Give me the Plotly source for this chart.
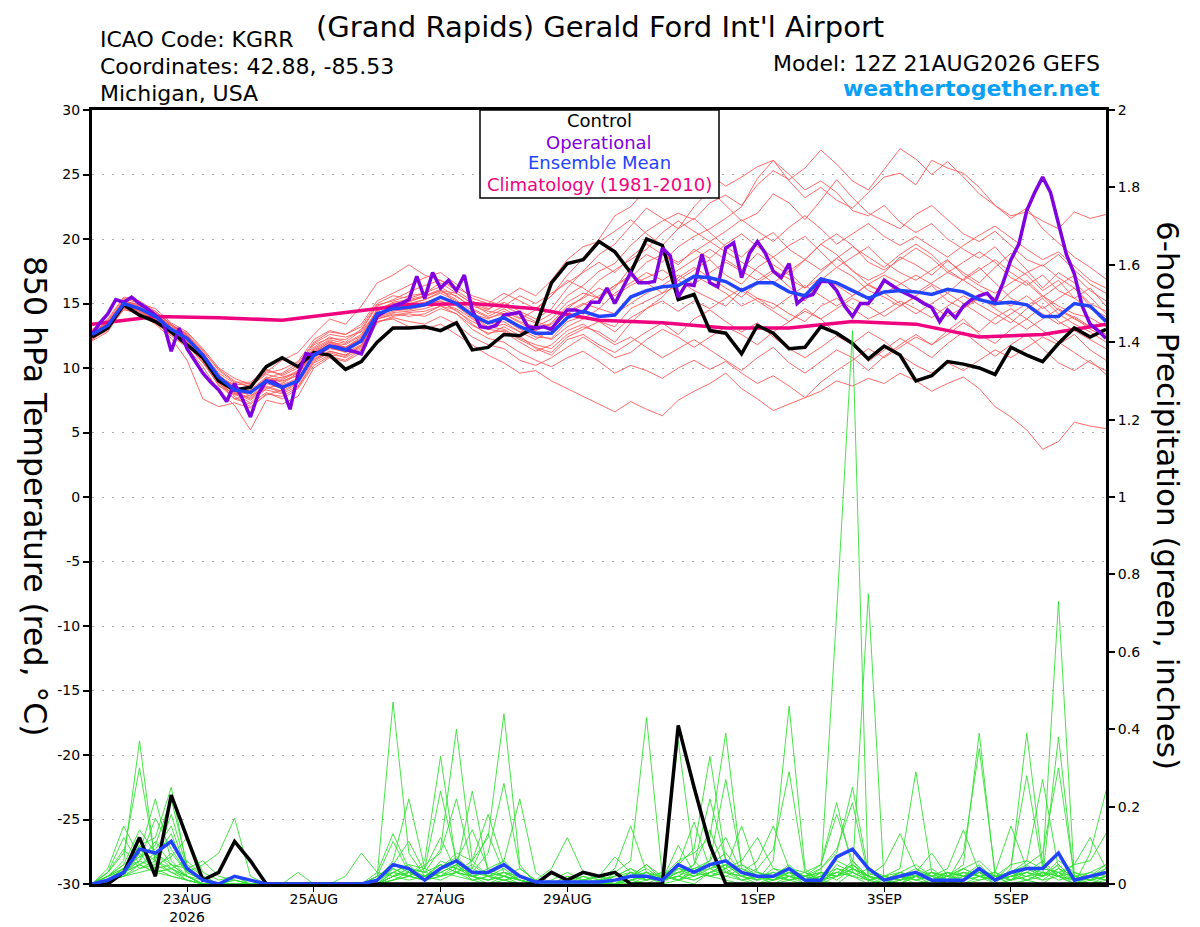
import pandas as pd
import plotly.graph_objects as go

# 6-hourly GEFS steps, 3-hourly operational run, daily climatology
times = pd.date_range("2026-08-21 12:00", periods=65, freq="6h")
op_times = pd.date_range("2026-08-21 12:00", periods=129, freq="3h")
clim_times = pd.date_range("2026-08-21 12:00", periods=17, freq="24h")

tick_days = ["2026-08-23", "2026-08-25", "2026-08-27", "2026-08-29",
             "2026-09-01", "2026-09-03", "2026-09-05"]
tick_text = ["23AUG<br>2026", "25AUG", "27AUG", "29AUG", "1SEP", "3SEP", "5SEP"]
temp_ticks = [-30, -25, -20, -15, -10, -5, 0, 5, 10, 15, 20, 25, 30]
precip_ticks = [0, 0.2, 0.4, 0.6, 0.8, 1, 1.2, 1.4, 1.6, 1.8, 2]

control_temp = [
    12.4, 13.1, 14.9, 14.1, 13.6, 12.8, 11.8, 10.8, 9.0, 8.3, 8.5, 10.1, 10.8,
    10.1, 11.2, 11.0, 9.9, 10.5, 12.0, 13.1, 13.1, 13.2, 12.9, 13.5, 11.4, 11.6,
    12.6, 12.5, 13.2, 16.6, 18.1, 18.4, 19.8, 19.0, 17.4, 20.0, 19.5, 15.3, 15.7,
    12.9, 12.7, 11.1, 13.3, 12.7, 11.5, 11.6, 13.2, 12.7, 11.9, 10.7, 11.7, 11.0,
    9.0, 9.4, 10.5, 10.3, 10.0, 9.5, 11.6, 11.0, 10.5, 11.9, 13.1, 12.4, 13.0,
]

mean_temp = [
    12.6, 13.3, 15.0, 14.6, 14.0, 13.0, 12.3, 11.0, 9.3, 8.3, 8.1, 9.0, 8.5,
    9.0, 11.0, 11.7, 11.4, 12.1, 14.2, 14.6, 14.7, 14.9, 15.5, 15.0, 14.1, 13.5,
    13.9, 13.2, 12.7, 12.7, 13.9, 14.4, 14.0, 14.1, 15.5, 16.0, 16.3, 16.4, 17.1,
    17.0, 16.7, 16.0, 16.6, 16.6, 15.9, 15.6, 16.9, 16.6, 16.0, 15.4, 15.9, 16.0,
    15.9, 15.7, 16.1, 15.9, 15.3, 15.0, 15.1, 14.9, 14.0, 14.0, 15.0, 14.8, 13.6,
]

op_temp = [
    12.6, 13.5, 14.2, 15.3, 15.1, 15.5, 15.0, 14.6, 14.1, 13.5, 11.3, 13.1, 11.5,
    10.5, 9.6, 8.9, 8.3, 7.4, 8.8, 7.6, 6.2, 8.0, 9.0, 8.9, 8.5, 6.8,
    9.5, 11.1, 11.0, 11.3, 11.7, 11.6, 11.4, 11.3, 11.1, 12.5, 14.0, 14.4, 14.8,
    15.0, 15.3, 17.1, 15.4, 17.4, 16.2, 16.8, 16.0, 17.2, 14.5, 13.2, 13.1, 13.3,
    14.1, 14.2, 14.3, 13.2, 13.1, 13.2, 13.0, 13.8, 14.5, 14.5, 14.3, 15.1, 15.1,
    16.2, 15.0, 16.2, 17.4, 16.6, 16.6, 16.7, 19.3, 18.7, 15.5, 16.5, 16.4, 18.8,
    16.6, 16.3, 19.3, 19.7, 17.0, 18.9, 19.8, 18.9, 17.5, 17.0, 18.1, 15.0, 15.5,
    15.7, 16.7, 16.7, 16.0, 14.8, 14.0, 15.0, 15.0, 15.8, 16.8, 16.4, 16.0, 15.7,
    15.4, 15.0, 14.7, 13.6, 14.5, 13.9, 14.8, 15.3, 15.6, 15.8, 15.1, 16.6, 18.4,
    19.6, 22.2, 23.6, 24.8, 23.6, 21.3, 18.8, 17.3, 14.8, 13.4, 12.9, 12.3,
]

clim_temp = [13.4, 14.0, 13.9, 13.7, 14.3, 14.9, 15.0, 14.6, 13.7,
             13.5, 13.1, 13.1, 13.6, 13.4, 12.4, 12.6, 13.4]

member_temp = [
    [12.8, 13.6, 15.2, 14.9, 14.3, 13.4, 12.6, 11.2, 9.6, 8.8, 8.6, 9.5, 9.2,
     9.8, 11.6, 12.4, 12.0, 12.9, 14.8, 15.3, 15.9, 16.4, 16.8, 16.0, 15.2, 14.6,
     15.1, 14.4, 13.8, 14.6, 16.2, 17.5, 18.8, 19.6, 21.0, 22.4, 21.6, 20.8, 22.5,
     23.8, 22.6, 21.4, 22.0, 23.5, 22.8, 21.5, 23.0, 24.6, 23.2, 22.0, 21.4, 20.8,
     21.9, 22.6, 21.5, 20.4, 19.8, 20.6, 19.5, 18.4, 17.9, 18.8, 17.6, 16.5, 15.8],
    [12.3, 12.9, 14.6, 14.1, 13.5, 12.5, 11.6, 10.1, 8.2, 7.1, 5.2, 7.5, 7.2,
     7.8, 10.0, 10.8, 10.5, 11.2, 13.5, 14.0, 14.2, 14.0, 14.6, 14.2, 13.0, 12.3,
     12.0, 11.2, 10.6, 10.1, 10.8, 11.3, 10.5, 9.6, 10.2, 9.8, 9.2, 10.0, 10.6,
     9.9, 10.5, 9.6, 8.8, 9.4, 8.6, 7.7, 8.2, 9.0, 8.6, 9.2, 8.8, 9.6,
     9.0, 8.2, 8.8, 9.3, 8.4, 7.0, 6.2, 5.2, 3.7, 4.3, 5.8, 5.5, 5.3],
    [12.2, 13.0, 14.5, 14.3, 13.8, 12.7, 11.8, 10.4, 8.9, 7.6, 7.9, 8.3, 8.0,
     8.6, 10.5, 11.2, 10.8, 11.5, 13.6, 13.8, 13.2, 13.0, 13.4, 12.6, 11.8, 11.0,
     10.4, 9.6, 9.8, 9.0, 8.4, 7.8, 7.2, 6.6, 7.4, 6.8, 6.3, 7.5, 8.2,
     8.8, 9.6, 8.4, 7.6, 6.7, 7.2, 7.7, 8.9, 9.8, 10.6, 11.5, 10.8, 11.6,
     12.4, 11.8, 12.6, 13.5, 12.8, 13.9, 14.6, 13.8, 14.8, 13.6, 12.9, 12.2, 11.5],
    [13.0, 13.7, 15.4, 15.0, 14.6, 13.5, 12.8, 11.5, 10.0, 9.2, 8.7, 9.8, 9.5,
     10.2, 12.0, 12.8, 12.6, 13.4, 15.2, 15.8, 16.4, 17.0, 17.4, 16.5, 15.4, 15.0,
     15.8, 15.2, 14.6, 15.6, 17.2, 18.5, 20.0, 21.8, 22.5, 23.9, 24.6, 25.2, 26.3,
     25.0, 24.1, 24.8, 25.6, 26.1, 25.0, 23.8, 24.5, 23.6, 22.2, 21.8, 22.6, 21.3,
     20.5, 21.2, 20.0, 19.2, 18.5, 19.4, 18.0, 17.2, 16.0, 16.8, 15.4, 14.6, 14.0],
    [12.5, 13.4, 15.0, 14.7, 13.9, 13.1, 12.4, 10.9, 9.0, 8.0, 8.3, 9.3, 9.0,
     9.4, 11.3, 12.0, 11.8, 12.5, 14.4, 15.0, 14.9, 15.3, 15.9, 15.6, 14.6, 14.0,
     14.6, 13.9, 13.5, 14.2, 15.6, 16.4, 17.5, 18.1, 19.5, 20.6, 21.4, 22.0, 21.5,
     22.8, 23.4, 22.6, 24.2, 25.3, 24.6, 25.5, 26.9, 25.8, 24.5, 23.8, 25.4, 27.0,
     26.2, 25.0, 26.0, 24.8, 23.5, 22.6, 21.6, 22.4, 20.8, 19.7, 18.6, 17.8, 16.9],
    [12.7, 13.2, 14.8, 14.4, 14.0, 13.3, 12.7, 11.4, 9.8, 8.9, 8.9, 9.9, 9.4,
     10.0, 11.8, 12.3, 12.2, 13.0, 14.9, 15.2, 15.6, 15.8, 16.3, 15.5, 14.8, 14.4,
     14.2, 13.6, 13.2, 13.8, 15.1, 15.8, 15.4, 16.2, 17.8, 18.8, 18.2, 19.4, 20.2,
     20.8, 21.6, 22.5, 24.7, 26.1, 24.5, 23.2, 24.0, 23.0, 22.4, 23.6, 24.8, 25.1,
     24.2, 26.1, 25.5, 25.1, 24.0, 22.6, 21.8, 22.1, 21.4, 20.8, 22.1, 21.6, 21.9],
    [12.4, 13.1, 15.1, 14.8, 14.1, 12.9, 12.1, 10.6, 9.1, 8.2, 7.6, 8.6, 8.2,
     8.9, 10.8, 11.5, 11.3, 12.0, 14.3, 14.5, 14.5, 14.8, 15.4, 15.1, 14.3, 13.5,
     13.8, 13.0, 12.4, 12.3, 13.6, 14.0, 13.6, 13.2, 14.6, 15.2, 15.8, 16.4, 17.2,
     16.5, 15.8, 14.8, 15.4, 15.0, 14.2, 13.6, 14.8, 15.4, 14.6, 13.8, 14.4, 15.2,
     14.6, 13.9, 14.8, 15.6, 14.9, 14.2, 13.5, 14.6, 15.4, 14.2, 13.4, 12.8, 12.0],
    [12.6, 13.5, 14.9, 14.5, 13.6, 12.8, 12.0, 10.5, 8.6, 8.0, 7.3, 8.4, 8.8,
     9.5, 11.4, 12.1, 11.6, 12.3, 14.6, 15.0, 15.2, 15.5, 16.0, 15.3, 14.0, 13.2,
     13.0, 12.3, 11.8, 11.5, 12.6, 13.2, 12.8, 12.0, 13.5, 14.6, 15.5, 16.8, 17.6,
     18.4, 17.2, 16.5, 17.8, 18.6, 17.4, 16.2, 17.4, 18.5, 17.6, 16.4, 15.8, 16.5,
     17.2, 16.5, 15.8, 16.9, 17.8, 16.6, 15.4, 14.8, 15.6, 14.5, 13.8, 13.2, 12.6],
    [12.1, 12.8, 14.7, 14.2, 13.4, 12.3, 10.6, 7.6, 7.0, 7.3, 6.9, 8.0, 7.8,
     8.5, 10.4, 11.0, 10.9, 11.8, 13.8, 14.2, 14.0, 14.2, 14.8, 14.5, 13.4, 12.6,
     13.2, 12.5, 11.5, 11.0, 12.2, 12.6, 11.8, 11.2, 12.0, 12.8, 13.5, 12.6, 13.8,
     14.5, 13.6, 12.8, 13.5, 12.4, 11.5, 10.8, 11.6, 12.5, 11.8, 10.5, 11.4, 12.3,
     11.6, 10.8, 11.9, 12.8, 11.8, 10.9, 11.8, 12.6, 11.5, 10.4, 9.8, 10.6, 9.5],
    [12.9, 13.4, 15.3, 14.6, 14.2, 13.2, 12.5, 11.0, 9.5, 8.4, 8.0, 9.1, 8.7,
     9.2, 11.1, 11.9, 11.6, 12.4, 14.0, 14.8, 15.1, 15.6, 16.0, 15.8, 15.0, 14.5,
     15.4, 16.2, 15.6, 16.8, 18.4, 19.4, 19.8, 20.6, 21.5, 20.4, 19.5, 20.8, 21.6,
     20.5, 19.4, 18.6, 19.8, 20.5, 19.2, 18.4, 19.6, 20.4, 19.5, 18.2, 17.6, 18.4,
     19.3, 18.5, 17.4, 18.2, 19.0, 18.2, 17.0, 16.4, 17.2, 16.0, 15.4, 16.2, 14.8],
    [12.5, 13.2, 14.8, 14.4, 13.7, 12.6, 11.9, 10.8, 9.2, 8.1, 7.7, 8.8, 8.4,
     9.0, 10.9, 11.6, 11.2, 11.8, 14.0, 14.4, 14.6, 14.9, 15.2, 14.4, 13.6, 13.0,
     12.8, 12.0, 11.3, 11.8, 12.9, 13.4, 12.6, 11.8, 12.4, 11.6, 10.8, 11.5, 12.2,
     11.4, 10.6, 9.8, 10.8, 11.6, 10.4, 9.6, 10.5, 11.4, 10.8, 9.8, 10.9, 11.8,
     12.6, 11.8, 12.9, 13.8, 12.6, 11.9, 13.0, 13.8, 12.9, 12.0, 11.2, 10.4, 9.8],
    [12.9, 13.8, 15.5, 15.2, 14.4, 13.3, 12.5, 11.3, 9.9, 9.0, 8.5, 9.7, 10.6,
     11.2, 12.6, 13.8, 13.4, 14.8, 16.6, 17.2, 18.0, 17.2, 16.8, 16.2, 15.6, 15.2,
     14.8, 14.2, 13.6, 13.2, 14.4, 15.0, 14.6, 15.8, 16.6, 17.4, 16.8, 17.6, 18.4,
     19.2, 18.4, 17.6, 18.9, 18.0, 17.2, 18.4, 19.6, 18.8, 17.5, 16.8, 17.4, 18.6,
     18.0, 17.2, 18.3, 17.4, 16.6, 17.8, 18.9, 17.6, 16.2, 17.4, 16.6, 15.5, 14.2],
    [12.3, 13.0, 14.6, 14.7, 14.0, 13.0, 12.2, 10.7, 8.8, 7.9, 8.1, 9.2, 9.6,
     10.4, 11.9, 12.6, 12.4, 12.8, 14.4, 15.1, 15.3, 15.6, 16.1, 15.0, 14.2, 13.8,
     14.4, 13.8, 14.5, 15.6, 16.8, 16.2, 15.4, 16.4, 17.2, 16.6, 15.8, 17.0, 17.8,
     17.0, 16.2, 15.5, 16.6, 17.4, 16.3, 15.2, 16.8, 17.8, 17.1, 16.0, 15.5, 14.8,
     15.6, 16.4, 15.2, 14.6, 15.4, 14.8, 15.9, 16.8, 15.6, 14.8, 14.2, 13.9, 13.2],
    [12.7, 13.5, 15.1, 14.8, 14.4, 13.4, 12.4, 10.8, 9.4, 8.6, 8.2, 9.0, 9.3,
     9.6, 11.2, 12.0, 11.5, 12.2, 14.2, 14.6, 14.8, 15.0, 15.2, 14.8, 13.9, 13.4,
     13.6, 12.8, 12.9, 13.5, 14.8, 15.4, 16.2, 15.6, 16.4, 17.0, 17.6, 16.8, 16.0,
     15.4, 14.8, 16.0, 15.2, 14.4, 13.6, 14.6, 13.8, 12.6, 11.9, 12.8, 12.1, 11.0,
     10.2, 9.6, 10.4, 9.8, 10.6, 11.4, 10.8, 11.6, 12.4, 11.8, 12.6, 11.4, 10.6],
    [12.4, 13.3, 14.9, 14.6, 13.8, 12.8, 12.2, 10.9, 9.0, 7.8, 7.0, 7.9, 8.3,
     9.1, 10.7, 11.3, 11.0, 11.6, 13.9, 14.3, 14.4, 14.6, 15.0, 14.6, 13.8, 13.1,
     13.4, 12.8, 12.2, 13.0, 14.2, 14.9, 15.6, 16.4, 17.0, 18.2, 18.8, 18.0, 19.2,
     18.5, 19.6, 20.4, 19.4, 18.6, 19.5, 20.2, 19.0, 17.8, 18.6, 19.4, 18.2, 17.4,
     16.8, 17.6, 18.4, 17.2, 16.4, 15.8, 16.6, 17.4, 18.0, 17.0, 16.2, 15.0, 14.4],
    [12.6, 13.4, 15.0, 14.4, 13.9, 13.0, 12.3, 11.1, 9.3, 8.5, 7.8, 8.9, 9.1,
     9.7, 11.2, 11.8, 11.6, 12.2, 14.1, 14.6, 14.8, 15.1, 15.5, 14.9, 14.1, 13.6,
     13.9, 13.2, 12.6, 12.2, 13.2, 13.8, 14.6, 14.2, 15.0, 15.8, 16.4, 17.2, 16.5,
     17.4, 18.2, 17.5, 16.8, 17.6, 16.9, 16.2, 17.0, 16.4, 15.6, 16.5, 17.2, 16.6,
     15.8, 16.6, 17.4, 16.8, 16.0, 15.4, 14.8, 15.6, 14.6, 15.4, 16.2, 14.8, 13.8],
    [12.2, 13.1, 14.8, 14.5, 13.6, 12.6, 11.8, 10.4, 8.7, 7.6, 7.2, 8.1, 7.6,
     8.4, 10.2, 10.9, 10.6, 11.4, 13.6, 13.9, 13.6, 13.4, 14.0, 13.4, 12.4, 11.8,
     11.5, 10.6, 10.2, 10.8, 11.6, 12.4, 11.6, 10.8, 11.2, 12.2, 13.0, 12.4, 11.6,
     12.4, 13.2, 12.6, 11.8, 12.8, 13.6, 14.4, 13.8, 14.6, 15.4, 14.8, 14.0, 14.8,
     15.5, 14.8, 14.0, 14.7, 15.5, 14.6, 13.8, 13.0, 13.8, 14.6, 13.9, 13.0, 12.4],
    [12.8, 13.6, 15.2, 14.9, 14.2, 13.3, 12.6, 11.1, 9.3, 8.7, 8.8, 9.6, 9.9,
     10.5, 12.2, 12.9, 12.6, 13.2, 15.0, 15.6, 15.4, 15.8, 16.6, 15.8, 15.0, 14.2,
     14.8, 15.6, 15.0, 15.8, 16.6, 17.4, 18.2, 17.4, 18.6, 19.6, 18.8, 18.2, 19.0,
     19.8, 20.6, 21.5, 20.6, 19.8, 20.9, 21.8, 20.8, 19.6, 20.4, 21.2, 20.2, 19.5,
     20.2, 19.4, 18.6, 19.5, 20.3, 21.0, 20.1, 19.2, 18.4, 19.0, 17.9, 16.8, 16.2],
    [12.5, 13.2, 14.7, 14.3, 13.7, 12.9, 12.0, 10.6, 8.9, 8.1, 7.5, 8.5, 8.1,
     8.8, 10.6, 11.3, 11.0, 11.7, 13.8, 14.1, 14.3, 14.4, 14.8, 14.2, 13.3, 12.7,
     12.9, 12.2, 11.6, 11.2, 12.4, 13.0, 13.6, 12.8, 13.9, 14.6, 15.2, 14.4, 15.2,
     14.6, 15.4, 16.2, 15.4, 14.6, 15.5, 16.4, 15.6, 14.8, 15.6, 16.5, 15.8, 15.0,
     14.2, 15.0, 15.8, 15.0, 14.2, 13.4, 14.2, 15.0, 14.2, 13.4, 14.0, 13.2, 12.6],
    [12.7, 13.5, 14.9, 14.6, 14.1, 13.1, 12.4, 11.0, 9.4, 8.5, 8.2, 9.2, 8.9,
     9.6, 11.5, 12.2, 11.9, 12.6, 14.5, 14.9, 15.0, 15.3, 15.8, 15.2, 14.5, 13.9,
     14.2, 13.5, 12.9, 13.4, 14.6, 15.5, 16.8, 17.6, 18.4, 19.2, 20.5, 21.4, 20.6,
     19.8, 19.0, 18.2, 17.5, 16.6, 17.5, 18.4, 17.6, 18.5, 19.4, 18.6, 17.8, 18.8,
     19.6, 18.8, 17.6, 16.8, 17.6, 18.4, 17.4, 16.6, 15.5, 16.4, 17.2, 16.0, 15.2],
]

control_precip = [
    0, 0, 0.03, 0.12, 0.02, 0.23, 0.12, 0.01, 0.03, 0.11, 0.06, 0, 0,
    0, 0, 0, 0, 0, 0, 0, 0, 0, 0, 0, 0, 0,
    0, 0, 0, 0.03, 0.01, 0.03, 0.02, 0.03, 0, 0, 0, 0.41, 0.25,
    0.10, 0, 0, 0, 0, 0, 0, 0, 0, 0, 0, 0, 0,
    0, 0, 0, 0, 0, 0, 0, 0, 0, 0, 0, 0, 0,
]

mean_precip = [
    0, 0.01, 0.03, 0.09, 0.08, 0.11, 0.04, 0.01, 0, 0.02, 0.01, 0, 0,
    0, 0, 0, 0, 0, 0.01, 0.05, 0.04, 0.01, 0.04, 0.06, 0.03, 0.03,
    0.05, 0.02, 0.005, 0.005, 0.005, 0.005, 0.005, 0.01, 0.02, 0.02, 0.01, 0.05, 0.03,
    0.05, 0.06, 0.03, 0.02, 0.02, 0.04, 0.01, 0.01, 0.07, 0.09, 0.04, 0.01, 0.02,
    0.03, 0.01, 0.01, 0.01, 0.04, 0.01, 0.03, 0.04, 0.04, 0.08, 0.01, 0.02, 0.03,
]

member_precip = [
    [0, 0.02, 0.06, 0.37, 0.05, 0.03, 0.01, 0, 0, 0, 0, 0, 0,
     0, 0, 0, 0, 0, 0.02, 0.47, 0.08, 0.02, 0.05, 0.03, 0.01, 0.02,
     0.04, 0.01, 0, 0, 0, 0, 0, 0, 0.02, 0.05, 0.01, 0.10, 0.03,
     0.02, 0.01, 0, 0, 0.01, 0.03, 0, 0.02, 0.70, 1.43, 0, 0.01, 0,
     0.02, 0, 0, 0.01, 0.03, 0, 0.01, 0.05, 0.02, 0.38, 0.01, 0, 0.02],
    [0, 0.03, 0.08, 0.30, 0.06, 0.04, 0.02, 0, 0, 0.01, 0, 0, 0,
     0, 0, 0, 0, 0, 0, 0.04, 0.02, 0.06, 0.33, 0.05, 0.02, 0,
     0.01, 0, 0, 0, 0.02, 0, 0, 0.03, 0.06, 0.43, 0.02, 0.01, 0,
     0.03, 0.05, 0.02, 0, 0, 0.02, 0.01, 0, 0.04, 0.02, 0, 0, 0.03,
     0.01, 0, 0.02, 0.05, 0.39, 0.02, 0, 0.01, 0, 0.03, 0, 0.01, 0],
    [0, 0.01, 0.04, 0.10, 0.12, 0.25, 0.04, 0.01, 0, 0, 0, 0, 0,
     0, 0, 0, 0, 0, 0.01, 0.03, 0.05, 0.01, 0.04, 0.08, 0.06, 0.12,
     0.44, 0.05, 0, 0.01, 0.03, 0.01, 0, 0, 0.01, 0.03, 0, 0.04, 0.02,
     0.05, 0.08, 0.03, 0.01, 0.06, 0.46, 0.04, 0, 0.02, 0.05, 0.01, 0, 0.01,
     0.03, 0.01, 0, 0, 0.02, 0, 0.04, 0.39, 0.05, 0.02, 0, 0.02, 0.04],
    [0, 0.02, 0.05, 0.08, 0.22, 0.06, 0.02, 0, 0, 0, 0, 0, 0,
     0, 0, 0, 0, 0, 0, 0.02, 0.04, 0.03, 0.09, 0.40, 0.06, 0.02,
     0.03, 0.01, 0, 0, 0, 0.02, 0, 0, 0, 0.01, 0.02, 0.06, 0.08,
     0.12, 0.39, 0.04, 0.02, 0, 0.01, 0.02, 0.01, 0, 0.03, 0.75, 0, 0.02,
     0, 0.01, 0.03, 0, 0.01, 0.02, 0, 0.01, 0.03, 0.02, 0, 0.08, 0.24],
    [0, 0.04, 0.15, 0.07, 0.10, 0.22, 0.05, 0.02, 0, 0, 0, 0, 0,
     0, 0, 0, 0, 0, 0.01, 0.06, 0.22, 0.04, 0.02, 0.05, 0.01, 0,
     0.02, 0.01, 0, 0, 0.01, 0, 0, 0.02, 0.04, 0.01, 0.03, 0.37, 0.06,
     0.02, 0.04, 0.01, 0, 0.02, 0.01, 0, 0.03, 0.02, 0.06, 0.01, 0, 0,
     0.02, 0.01, 0, 0.03, 0.02, 0.01, 0.03, 0.06, 0.04, 0.73, 0.02, 0, 0.01],
    [0, 0, 0.03, 0.06, 0.04, 0.08, 0.03, 0.05, 0.08, 0.17, 0.02, 0, 0,
     0, 0, 0, 0, 0, 0, 0.02, 0.03, 0.01, 0.06, 0.04, 0.24, 0.03,
     0.02, 0.04, 0.01, 0, 0, 0.01, 0.02, 0, 0.01, 0, 0.02, 0.05, 0.09,
     0.33, 0.06, 0.02, 0.03, 0.01, 0.04, 0.02, 0, 0.05, 0.03, 0.01, 0.02, 0.04,
     0.29, 0.03, 0, 0.02, 0.04, 0.01, 0.02, 0.03, 0.06, 0.02, 0.01, 0.03, 0.05],
    [0, 0.01, 0.04, 0.09, 0.06, 0.18, 0.04, 0.01, 0, 0, 0, 0, 0,
     0, 0, 0, 0, 0, 0.02, 0.05, 0.03, 0.02, 0.04, 0.07, 0.03, 0.08,
     0.26, 0.04, 0.01, 0, 0, 0, 0.01, 0, 0.03, 0.02, 0.01, 0.04, 0.03,
     0.06, 0.27, 0.05, 0.03, 0.02, 0.05, 0.01, 0.02, 0.06, 0.04, 0.02, 0.01, 0.03,
     0.02, 0.04, 0.01, 0.08, 0.35, 0.03, 0.01, 0.04, 0.02, 0.05, 0.01, 0.02, 0.03],
    [0, 0.02, 0.05, 0.14, 0.08, 0.05, 0.02, 0, 0, 0.02, 0, 0, 0,
     0, 0, 0, 0, 0, 0, 0.03, 0.05, 0.04, 0.24, 0.06, 0.02, 0.01,
     0.03, 0.02, 0, 0, 0, 0, 0, 0.01, 0.02, 0.04, 0.01, 0.02, 0.05,
     0.22, 0.06, 0.03, 0.01, 0.04, 0.02, 0.01, 0.03, 0.02, 0.05, 0.02, 0.01, 0,
     0.03, 0.02, 0.01, 0.04, 0.06, 0.02, 0.05, 0.28, 0.04, 0.03, 0.02, 0.01, 0.02],
    [0, 0.01, 0.03, 0.06, 0.17, 0.09, 0.03, 0.01, 0, 0, 0, 0, 0,
     0, 0, 0, 0, 0, 0, 0.02, 0.04, 0.03, 0.05, 0.03, 0.06, 0.18,
     0.05, 0.02, 0, 0, 0.01, 0, 0, 0, 0.01, 0.02, 0.03, 0.01, 0.04,
     0.05, 0.03, 0.02, 0.04, 0.09, 0.29, 0.03, 0.01, 0.02, 0.04, 0.02, 0, 0.01,
     0.03, 0.02, 0, 0.01, 0.04, 0.02, 0.03, 0.05, 0.08, 0.30, 0.02, 0.01, 0.03],
    [0, 0.01, 0.02, 0.04, 0.05, 0.07, 0.12, 0.03, 0.01, 0.02, 0, 0, 0,
     0, 0, 0, 0, 0, 0, 0.01, 0.02, 0.01, 0.03, 0.05, 0.02, 0.04,
     0.06, 0.22, 0.03, 0, 0, 0.01, 0, 0, 0, 0.02, 0.01, 0.03, 0.02,
     0.04, 0.06, 0.03, 0.02, 0.01, 0.03, 0.02, 0.04, 0.08, 0.25, 0.03, 0.01, 0.02,
     0.04, 0.01, 0.02, 0.03, 0.02, 0.01, 0.05, 0.06, 0.27, 0.04, 0.02, 0.01, 0.04],
    [0, 0.03, 0.12, 0.05, 0.03, 0.04, 0.01, 0, 0, 0, 0, 0, 0,
     0, 0, 0, 0, 0, 0.01, 0.04, 0.02, 0.05, 0.08, 0.22, 0.04, 0.02,
     0.01, 0.02, 0, 0, 0.01, 0.02, 0.01, 0.04, 0.15, 0.03, 0.01, 0.02, 0.01,
     0.03, 0.05, 0.02, 0.01, 0.03, 0.02, 0, 0.01, 0.03, 0.02, 0.01, 0.02, 0.03,
     0.05, 0.02, 0.04, 0.14, 0.03, 0.01, 0.02, 0.03, 0.01, 0.04, 0.02, 0.03, 0.02],
    [0, 0.02, 0.04, 0.07, 0.09, 0.15, 0.03, 0.01, 0, 0, 0, 0, 0,
     0, 0, 0, 0, 0, 0.03, 0.13, 0.04, 0.02, 0.05, 0.04, 0.03, 0.02,
     0.03, 0.01, 0, 0, 0.02, 0.01, 0, 0, 0.02, 0.05, 0.02, 0.03, 0.04,
     0.02, 0.03, 0.05, 0.02, 0.01, 0.04, 0.03, 0.05, 0.21, 0.04, 0.02, 0.01, 0.02,
     0.01, 0.03, 0.02, 0.04, 0.02, 0.03, 0.15, 0.04, 0.02, 0.05, 0.01, 0.02, 0.01],
    [0, 0.01, 0.03, 0.10, 0.04, 0.02, 0.01, 0, 0, 0.01, 0, 0, 0,
     0, 0, 0, 0, 0, 0, 0.02, 0.03, 0.01, 0.02, 0.03, 0.05, 0.02,
     0.01, 0.02, 0.01, 0.04, 0.12, 0.03, 0.01, 0.02, 0.03, 0.01, 0.02, 0.04, 0.03,
     0.05, 0.04, 0.15, 0.03, 0.02, 0.01, 0.02, 0.03, 0.01, 0.04, 0.02, 0.05, 0.13,
     0.04, 0.02, 0.01, 0.03, 0.02, 0.01, 0.02, 0.04, 0.03, 0.02, 0.05, 0.06, 0.13],
    [0, 0.02, 0.04, 0.06, 0.11, 0.05, 0.02, 0, 0, 0, 0, 0, 0,
     0, 0, 0, 0, 0, 0, 0.01, 0.03, 0.02, 0.04, 0.06, 0.14, 0.04,
     0.02, 0.01, 0, 0, 0, 0.01, 0.02, 0.01, 0.03, 0.02, 0, 0.01, 0.03,
     0.04, 0.05, 0.03, 0.06, 0.15, 0.04, 0.01, 0.02, 0.03, 0.05, 0.02, 0.01, 0.02,
     0.03, 0.01, 0.02, 0.04, 0.02, 0.01, 0.03, 0.02, 0.04, 0.03, 0.05, 0.12, 0.04],
    [0, 0.01, 0.02, 0.05, 0.03, 0.04, 0.06, 0.02, 0, 0, 0, 0, 0,
     0, 0, 0, 0, 0, 0, 0.03, 0.02, 0.01, 0.03, 0.05, 0.04, 0.13,
     0.03, 0.02, 0, 0, 0, 0, 0.01, 0, 0.02, 0.03, 0.01, 0.02, 0.01,
     0.03, 0.04, 0.06, 0.12, 0.04, 0.03, 0.02, 0.05, 0.18, 0.06, 0.02, 0.01, 0.03,
     0.02, 0.01, 0.03, 0.02, 0.05, 0.01, 0.02, 0.03, 0.02, 0.06, 0.03, 0.02, 0.01],
    [0, 0.03, 0.09, 0.04, 0.06, 0.03, 0.02, 0, 0, 0, 0, 0, 0,
     0, 0, 0, 0, 0, 0.01, 0.05, 0.11, 0.03, 0.02, 0.04, 0.02, 0.01,
     0.02, 0, 0, 0, 0, 0, 0.01, 0.02, 0.04, 0.02, 0.01, 0.03, 0.05,
     0.14, 0.03, 0.02, 0.01, 0.02, 0.03, 0.01, 0.02, 0.04, 0.03, 0.01, 0.02, 0.01,
     0.02, 0.03, 0.01, 0.02, 0.03, 0.01, 0.02, 0.01, 0.03, 0.02, 0.01, 0.02, 0.03],
    [0, 0.01, 0.03, 0.05, 0.07, 0.13, 0.02, 0.01, 0, 0, 0, 0, 0,
     0, 0, 0, 0, 0, 0.02, 0.03, 0.02, 0.04, 0.12, 0.03, 0.02, 0.03,
     0.02, 0.01, 0, 0, 0, 0.01, 0, 0, 0.01, 0.02, 0.01, 0.02, 0.04,
     0.06, 0.12, 0.03, 0.02, 0.01, 0.02, 0.01, 0.04, 0.09, 0.21, 0.02, 0.01, 0.02,
     0.01, 0.02, 0.03, 0.02, 0.04, 0.02, 0.01, 0.03, 0.02, 0.04, 0.01, 0.02, 0.05],
    [0, 0.01, 0.02, 0.03, 0.04, 0.05, 0.04, 0.06, 0.02, 0.01, 0, 0, 0,
     0, 0, 0, 0.02, 0.08, 0.03, 0.02, 0.01, 0.02, 0.01, 0.03, 0.02, 0.01,
     0.02, 0.01, 0, 0, 0, 0, 0, 0.01, 0.02, 0.03, 0.02, 0.05, 0.16,
     0.04, 0.02, 0.01, 0.02, 0.03, 0.01, 0.02, 0.03, 0.02, 0.04, 0.01, 0.02, 0.01,
     0.02, 0.01, 0.03, 0.02, 0.01, 0.02, 0.03, 0.01, 0.02, 0.03, 0.01, 0.02, 0.01],
    [0, 0.02, 0.03, 0.05, 0.08, 0.04, 0.02, 0, 0, 0, 0, 0, 0,
     0.03, 0, 0, 0, 0, 0.02, 0.11, 0.03, 0.02, 0.03, 0.02, 0.01, 0.02,
     0.01, 0, 0, 0, 0, 0.01, 0.02, 0.07, 0.03, 0.01, 0.02, 0.01, 0.02,
     0.03, 0.02, 0.04, 0.02, 0.01, 0.03, 0.02, 0.01, 0.03, 0.02, 0.04, 0.02, 0.01,
     0.02, 0.03, 0.02, 0.01, 0.03, 0.02, 0.01, 0.02, 0.03, 0.01, 0.02, 0.01, 0.02],
    [0, 0.01, 0.02, 0.08, 0.03, 0.02, 0.01, 0, 0, 0, 0, 0, 0,
     0, 0, 0, 0, 0, 0, 0.01, 0.02, 0.01, 0.02, 0.03, 0.02, 0.03,
     0.06, 0.02, 0.01, 0, 0, 0, 0, 0.01, 0.02, 0.01, 0.02, 0.01, 0.03,
     0.02, 0.03, 0.01, 0.02, 0.01, 0.02, 0.03, 0.01, 0.02, 0.03, 0.01, 0.02, 0.01,
     0.03, 0.08, 0.02, 0.01, 0.02, 0.03, 0.01, 0.02, 0.01, 0.02, 0.03, 0.01, 0.02],
]

FONT = "DejaVu Sans, Liberation Sans, Arial, sans-serif"
RED = "#ff5a5a"
GREEN = "#33e033"
PURPLE = "#8000e0"
BLUE = "#2244ff"
PINK = "#f0037f"

# plot area in reference pixels: x 92..1106, y 110..884
L, R, T, B = 92, 1106, 110, 884
# the page adds an 8px body margin, so the figure is shrunk by that much
OFF = 8
W, H = 1200 - OFF, 927 - OFF


def px(x):
    return (x - L) / (R - L)


def py(y):
    return (B - y) / (B - T)


fig = go.Figure()

for m in member_temp:
    fig.add_trace(go.Scatter(x=times, y=m, mode="lines", line=dict(color=RED, width=0.9),
                             hoverinfo="skip"))
fig.add_trace(go.Scatter(x=clim_times, y=clim_temp, mode="lines", line=dict(color=PINK, width=3.5)))
fig.add_trace(go.Scatter(x=times, y=control_temp, mode="lines", line=dict(color="black", width=3.5)))
fig.add_trace(go.Scatter(x=op_times, y=op_temp, mode="lines", line=dict(color=PURPLE, width=3.5)))
fig.add_trace(go.Scatter(x=times, y=mean_temp, mode="lines", line=dict(color=BLUE, width=3.5)))

for m in member_precip:
    fig.add_trace(go.Scatter(x=times, y=m, mode="lines", yaxis="y2",
                             line=dict(color=GREEN, width=0.9), hoverinfo="skip"))
fig.add_trace(go.Scatter(x=times, y=control_precip, mode="lines", yaxis="y2",
                         line=dict(color="black", width=3.5)))
fig.add_trace(go.Scatter(x=times, y=mean_precip, mode="lines", yaxis="y2",
                         line=dict(color=BLUE, width=3.5)))

notes = [
    ("(Grand Rapids) Gerald Ford Int'l Airport", 600, 27, "center", 29, "black", False),
    ("ICAO Code: KGRR", 98, 40, "left", 22, "black", False),
    ("Coordinates: 42.88, -85.53", 98, 66, "left", 22, "black", False),
    ("Michigan, USA", 98, 93, "left", 22, "black", False),
    ("Model: 12Z 21AUG2026 GEFS", 1102, 63, "right", 22, "black", False),
    ("weathertogether.net", 1102, 89, "right", 22, "#0aa0f5", True),
    ("Control", 599, 121, "center", 18, "black", False),
    ("Operational", 599, 142, "center", 18, PURPLE, False),
    ("Ensemble Mean", 599, 163, "center", 18, BLUE, False),
    ("Climatology (1981-2010)", 599, 185, "center", 18, PINK, False),
]
annotations = []
for text, x, y, anchor, size, color, bold in notes:
    annotations.append(dict(
        text=f"<b>{text}</b>" if bold else text, x=px(x), y=py(y), xref="paper", yref="paper",
        xanchor=anchor, yanchor="middle", showarrow=False,
        font=dict(family=FONT, size=size, color=color)))

for text, x, y, size in [("850 hPa Temperature (red, °C)", 35, 496, 31.5),
                         ("6-hour Precipitation (green, inches)", 1168, 495, 31)]:
    annotations.append(dict(text=text, x=px(x), y=py(y), xref="paper", yref="paper",
                            xanchor="center", yanchor="middle", showarrow=False,
                            textangle=90, font=dict(family=FONT, size=size, color="black")))

fig.update_layout(
    width=W, height=H,
    margin=dict(l=L - OFF, r=W - (R - OFF), t=T - OFF, b=H - (B - OFF), autoexpand=False),
    paper_bgcolor="white", plot_bgcolor="white",
    showlegend=False,
    font=dict(family=FONT, size=14, color="black"),
    annotations=annotations,
    shapes=[dict(type="rect", xref="paper", yref="paper", x0=px(480), x1=px(719),
                 y0=py(198), y1=1, line=dict(color="black", width=1.5),
                 fillcolor="white", layer="above")],
    xaxis=dict(
        type="date", range=[times[0], times[-1]],
        tickvals=tick_days, ticktext=tick_text,
        ticks="outside", ticklen=5, tickwidth=1, tickcolor="black",
        ticklabelstandoff=-5,
        showline=True, linewidth=3, linecolor="black", mirror=True,
        showgrid=False, zeroline=False,
        tickfont=dict(family=FONT, size=14),
    ),
    yaxis=dict(
        range=[-30, 30], tickvals=temp_ticks, ticktext=[str(v) for v in temp_ticks],
        ticks="outside", ticklen=6, tickwidth=1.5, tickcolor="black",
        showline=True, linewidth=3, linecolor="black",
        showgrid=True, gridcolor="#aaaaaa", gridwidth=1, griddash="2px,8px",
        zeroline=False, tickfont=dict(family=FONT, size=14),
    ),
    yaxis2=dict(
        range=[0, 2], overlaying="y", side="right",
        tickvals=precip_ticks, ticktext=[f"{v:g}" for v in precip_ticks],
        ticks="outside", ticklen=6, tickwidth=1.5, tickcolor="black",
        showline=True, linewidth=3, linecolor="black",
        showgrid=False, zeroline=False, tickfont=dict(family=FONT, size=14),
    ),
)

fig.write_html("out.html")
